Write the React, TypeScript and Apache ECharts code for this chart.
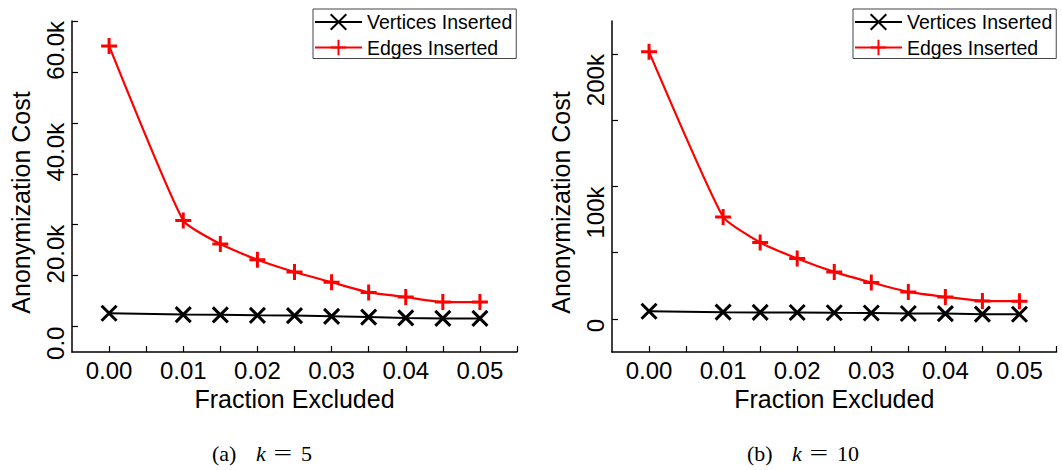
import React, { useEffect, useRef } from "react";
import * as echarts from "echarts";

// ---- data ----
const fractions = [0.0, 0.01, 0.015, 0.02, 0.025, 0.03, 0.035, 0.04, 0.045, 0.05];

const verticesK5 = [2600, 2350, 2300, 2200, 2150, 2000, 1850, 1700, 1600, 1600];
const edgesK5 = [55100, 20800, 16200, 13100, 10700, 8700, 6700, 5800, 4800, 4800];

const verticesK10 = [5800, 5100, 4900, 4800, 4600, 4500, 4100, 4000, 3600, 3500];
const edgesK10 = [201700, 77000, 57700, 45600, 35500, 27500, 20400, 16600, 13600, 13400];

const xTickValues = [0, 0.005, 0.01, 0.015, 0.02, 0.025, 0.03, 0.035, 0.04, 0.045, 0.05, 0.055];
const xLabelValues = [0, 0.01, 0.02, 0.03, 0.04, 0.05];

const yTickValuesK5 = [0, 10000, 20000, 30000, 40000, 50000, 60000];
const yLabelValuesK5 = [0, 20000, 40000, 60000];
const yTickValuesK10 = [0, 50000, 100000, 150000, 200000];
const yLabelValuesK10 = [0, 100000, 200000];

const seriesNames = ["Vertices Inserted", "Edges Inserted"];
const xAxisTitle = "Fraction Excluded";
const yAxisTitle = "Anonymization Cost";
const captions = [
  { label: "(a)", k: "5" },
  { label: "(b)", k: "10" },
];

const FONT = "'Liberation Sans', Arial, Helvetica, sans-serif";
const SERIF = "'Liberation Serif', 'Times New Roman', serif";
const CROSS = "path://M0,0L10,10M10,0L0,10";
const PLUS = "path://M5,0L5,10M0,5L10,5";

const pairs = (ys: number[]) => fractions.map((x, i) => [x, ys[i]]);

function makeXAxis(gridIndex: number) {
  return {
    type: "value",
    gridIndex,
    min: -0.005,
    max: 0.055,
    name: xAxisTitle,
    nameLocation: "middle",
    nameGap: 33,
    nameTextStyle: { fontFamily: FONT, fontSize: 25, color: "#000" },
    axisLine: { show: true, onZero: false, lineStyle: { color: "#000", width: 1.5 } },
    axisTick: {
      show: true,
      inside: true,
      length: 6,
      customValues: xTickValues,
      lineStyle: { color: "#000", width: 1.2 },
    },
    axisLabel: {
      customValues: xLabelValues,
      formatter: (v: number) => v.toFixed(2),
      fontFamily: FONT,
      fontSize: 24,
      color: "#000",
      margin: 6,
    },
    splitLine: { show: false },
  };
}

function makeYAxis(
  gridIndex: number,
  min: number,
  max: number,
  ticks: number[],
  labels: number[],
  fmt: (v: number) => string
) {
  return {
    type: "value",
    gridIndex,
    min,
    max,
    axisLine: { show: true, onZero: false, lineStyle: { color: "#000", width: 1.5 } },
    axisTick: {
      show: true,
      inside: true,
      length: 6,
      customValues: ticks,
      lineStyle: { color: "#000", width: 1.2 },
    },
    axisLabel: {
      customValues: labels,
      formatter: fmt,
      rotate: 90,
      align: "right",
      verticalAlign: "bottom",
      fontFamily: FONT,
      fontSize: 24,
      color: "#000",
      margin: 5,
    },
    splitLine: { show: false },
  };
}

function makeSeries(idx: number, vertices: number[], edges: number[]) {
  return [
    {
      name: seriesNames[0],
      type: "line",
      xAxisIndex: idx,
      yAxisIndex: idx,
      data: pairs(vertices),
      symbol: CROSS,
      symbolSize: 15,
      lineStyle: { color: "#000", width: 2 },
      itemStyle: { color: "#000", borderColor: "#000", borderWidth: 3 },
      z: 3,
    },
    {
      name: seriesNames[1],
      type: "line",
      xAxisIndex: idx,
      yAxisIndex: idx,
      data: pairs(edges),
      smooth: 0.15,
      symbol: PLUS,
      symbolSize: 16,
      lineStyle: { color: "#ff0000", width: 2.2 },
      itemStyle: { color: "#ff0000", borderColor: "#ff0000", borderWidth: 3 },
      z: 4,
    },
  ];
}

function makeLegend(left: number) {
  return {
    left,
    top: 9,
    orient: "vertical",
    data: seriesNames,
    itemWidth: 47,
    itemHeight: 19.5,
    itemGap: 5.5,
    padding: [3, 4, 1, 1],
    borderColor: "#444",
    borderWidth: 1,
    selectedMode: false,
    textStyle: { fontFamily: FONT, fontSize: 19.5, color: "#000" },
  };
}

function captionPieces(c: { label: string; k: string }, dx: number, extra: number) {
  const base = { fill: "#000", textVerticalAlign: "middle", textAlign: "left" };
  const y = 453;
  return [
    { type: "text", x: 212 + dx, y, style: { ...base, text: c.label, font: `22px ${SERIF}` } },
    { type: "text", x: 256 + dx + extra, y, style: { ...base, text: "k", font: `italic 22px ${SERIF}` } },
    {
      type: "text",
      x: 273.5 + dx + extra,
      y,
      scaleX: 1.5,
      style: { ...base, text: "=", font: `22px ${SERIF}` },
    },
    { type: "text", x: 301 + dx + extra, y, style: { ...base, text: c.k, font: `22px ${SERIF}` } },
  ];
}

export default function App() {
  const ref = useRef<HTMLDivElement>(null);

  useEffect(() => {
    if (!ref.current) return;
    const chart = echarts.init(ref.current, null, { renderer: "svg" });

    const captionGraphics = [
      ...captionPieces(captions[0], 0, 0),
      ...captionPieces(captions[1], 535, 1),
    ];

    const yTitleGraphics = [20.5, 560.5].map((x) => ({
      type: "text",
      x,
      y: 202.5,
      rotation: Math.PI / 2,
      style: {
        text: yAxisTitle,
        font: `25px ${FONT}`,
        fill: "#000",
        textAlign: "center",
        textVerticalAlign: "middle",
      },
    }));

    chart.setOption({
      animation: false,
      backgroundColor: "#fff",
      grid: [
        { left: 72, top: 21, width: 445, height: 331 },
        { left: 612, top: 21, width: 444.5, height: 331 },
      ],
      xAxis: [makeXAxis(0), makeXAxis(1)],
      yAxis: [
        makeYAxis(0, -5000, 60000, yTickValuesK5, yLabelValuesK5, (v) =>
          v === 0 ? "0.0" : (v / 1000).toFixed(1) + "k"
        ),
        makeYAxis(1, -25000, 225000, yTickValuesK10, yLabelValuesK10, (v) =>
          v === 0 ? "0" : v / 1000 + "k"
        ),
      ],
      legend: [makeLegend(313), makeLegend(853)],
      series: [
        ...makeSeries(0, verticesK5, edgesK5),
        ...makeSeries(1, verticesK10, edgesK10),
      ],
      graphic: [...yTitleGraphics, ...captionGraphics],
    });

    return () => chart.dispose();
  }, []);

  return (
    <div
      ref={ref}
      style={{ position: "absolute", left: 0, top: 0, width: 1062, height: 470 }}
    />
  );
}
